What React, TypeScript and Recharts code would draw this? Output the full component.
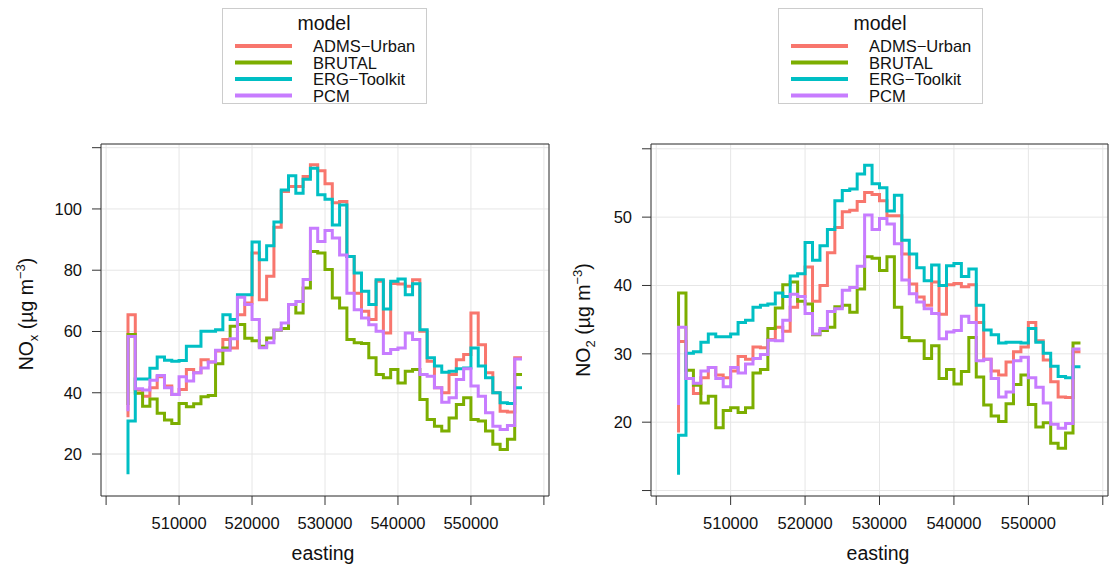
import { LineChart, Line, XAxis, YAxis, CartesianGrid } from 'recharts';

const FONT = '"Liberation Sans", Arial, Helvetica, sans-serif';

// easting of each step edge (1 km spacing along the transect)
const EASTING = [
  503000, 504000, 505000, 506000, 507000, 508000, 509000, 510000, 511000, 512000,
  513000, 514000, 515000, 516000, 517000, 518000, 519000, 520000, 521000, 522000,
  523000, 524000, 525000, 526000, 527000, 528000, 529000, 530000, 531000, 532000,
  533000, 534000, 535000, 536000, 537000, 538000, 539000, 540000, 541000, 542000,
  543000, 544000, 545000, 546000, 547000, 548000, 549000, 550000, 551000, 552000,
  553000, 554000, 555000, 556000, 557000,
];

const MODELS = ['ADMS\u2212Urban', 'BRUTAL', 'ERG\u2212Toolkit', 'PCM'];
const COLOURS = ['#F8766D', '#7CAE00', '#00BFC4', '#C77CFF'];

const X_TICKS = [500000, 510000, 520000, 530000, 540000, 550000, 560000];
const NOX_TICKS = [20, 40, 60, 80, 100, 120];
const NO2_TICKS = [10, 20, 30, 40, 50, 60];

// NOx panel
const NOX_ADMS = [32, 65.5, 40.9, 38.9, 41.6, 45.2, 42.2, 39.4, 41.1, 47.6, 46.5, 50.8, 50, 53.6, 57.4, 54.6, 65.5, 69.3, 85.6, 70.4, 78, 94, 105.7, 107.3, 107.3, 110.6, 114.4, 112.5, 108.2, 102, 102.4, 84.5, 72.5, 66.6, 63.9, 76.4, 59.5, 75.7, 75.5, 74.8, 76.9, 60.1, 50.3, 41.6, 40, 46, 50.8, 52.5, 66, 55.7, 46.5, 40, 34, 33.7, 51.4];
const NOX_BRUTAL = [36, 59, 39.8, 35.6, 38, 33.3, 31.1, 30, 36.5, 35.4, 36.4, 38.7, 39.1, 49.5, 54.6, 61.7, 62.3, 57.8, 57, 55.2, 57.9, 60.4, 61, 68.8, 66, 74.2, 86.1, 85.6, 80.2, 70.9, 67.7, 57.4, 56.3, 56.1, 51.4, 46, 44.9, 47.6, 43.2, 47, 47.6, 37.8, 31.3, 29.1, 27.5, 31.8, 36.2, 38.4, 31.3, 30.8, 27.5, 23.2, 21.5, 24.8, 46];
const NOX_ERG = [13.4, 30.8, 44.5, 44.5, 48, 51.7, 50.6, 50.3, 50.5, 55.2, 55.2, 60.1, 60.1, 60.6, 65.5, 63.9, 72, 72, 89.2, 83.4, 88, 95.7, 106.2, 110.8, 105.1, 109.7, 113.3, 104.6, 103.2, 94.8, 101.3, 84.5, 79.1, 73.1, 68.8, 76.9, 67.3, 76.4, 77.1, 72, 75.6, 60.6, 51.4, 48.7, 46.7, 47, 47.8, 48.1, 54.6, 48.7, 44.9, 40, 36.7, 36.5, 41.6];
const NOX_PCM = [34, 58.4, 41.3, 40.9, 44.1, 45.6, 41.6, 39.4, 45.2, 43.8, 46.5, 48.1, 50, 53.9, 53.9, 57.6, 71.2, 68.8, 63.9, 54.7, 56.3, 60.5, 62.8, 68.8, 69.8, 77, 93.7, 89.4, 93, 90.5, 85, 72.5, 67.1, 64.4, 62.2, 60.1, 52.8, 54.1, 54.6, 59.5, 57.4, 46, 45.4, 41.6, 36.9, 38.4, 44.3, 47.8, 42.2, 38.9, 33.5, 29.1, 28, 29.3, 51];

// NO2 panel
const NO2_ADMS = [18.5, 31.8, 26.4, 24.2, 26.5, 28, 26.9, 26.5, 27.5, 29.6, 29.2, 31, 30.9, 32.1, 33.9, 33.3, 36.8, 38.4, 42.7, 37.7, 40, 44.8, 48.5, 50.8, 51, 52.3, 53.6, 53.3, 52.4, 50.2, 50.2, 44.6, 40.2, 38.3, 37.1, 40.5, 35.8, 40.1, 40.3, 39.8, 40.1, 34.6, 29.2, 27.5, 26.9, 28.8, 30.3, 31, 34.6, 31.9, 29.1, 25.9, 23.7, 23.6, 30.3];
const NO2_BRUTAL = [27, 38.9, 27.6, 25.4, 22.8, 23.8, 19.2, 21.7, 22.1, 21.4, 22.1, 27.2, 27.7, 33.7, 36.7, 40.1, 40.5, 37.7, 37.3, 32.8, 33.4, 33.9, 36.9, 37.1, 36.1, 39.5, 44.2, 44, 42.2, 44.2, 36.8, 32.4, 31.9, 31.9, 29.3, 31.2, 26.4, 27.7, 25.6, 27.4, 32.4, 26.6, 22.5, 20.9, 20.1, 22.7, 25.5, 26.9, 22.6, 19.3, 19.9, 16.9, 16.2, 18.4, 31.6];
const NO2_ERG = [12.3, 18.1, 30.1, 30.3, 31.7, 32.9, 32.5, 32.5, 32.9, 34.6, 34.9, 36.8, 37.1, 37.3, 38.9, 38.4, 41.4, 41.7, 46.3, 43.7, 45.8, 48.2, 52.4, 53.9, 54.1, 56.3, 57.6, 54.9, 54.3, 50.9, 53.2, 46.6, 44.6, 42.6, 40.7, 43, 40, 42.9, 43.2, 41.3, 42.4, 37.1, 33.5, 32.8, 31.6, 31.7, 31.7, 31.6, 33.7, 31.7, 30.1, 28.2, 26.7, 26.5, 28.1];
const NO2_PCM = [22.5, 33.9, 26.4, 25.7, 27.5, 28, 26.4, 25.2, 28, 27.2, 28.5, 29.3, 29.9, 32, 31.9, 34.9, 38.7, 38.4, 35.9, 32.9, 33.7, 36.2, 36.6, 39.3, 39.7, 42.8, 50.3, 48.2, 49.8, 49, 46.1, 40.8, 38.8, 37.6, 36.6, 35.9, 32.2, 33.2, 33.4, 35.5, 34.6, 29, 29.2, 26.4, 23.7, 24.4, 29, 29.5, 26.5, 25.1, 22.8, 19.7, 19.1, 19.8, 30.7];

function buildRows(series: number[][]) {
  return EASTING.map((e, i) => ({
    e,
    s0: series[0][i],
    s1: series[1][i],
    s2: series[2][i],
    s3: series[3][i],
  }));
}

const noxRows = buildRows([NOX_ADMS, NOX_BRUTAL, NOX_ERG, NOX_PCM]);
const no2Rows = buildRows([NO2_ADMS, NO2_BRUTAL, NO2_ERG, NO2_PCM]);

const AXIS_COL = '#333';
const tickStyle = { fill: '#111', fontSize: 16.5, fontFamily: FONT };

interface PanelProps {
  rows: any[];
  left: number;
  width: number;
  margin: { top: number; right: number; bottom: number; left: number };
  rightAxisWidth: number;
  yDomain: [number, number];
  yTicks: number[];
  yHidden: number[];
}

function Panel({ rows, left, width, margin, rightAxisWidth, yDomain, yTicks, yHidden }: PanelProps) {
  return (
    <div style={{ position: 'absolute', left, top: 0 }}>
      <LineChart width={width} height={570} data={rows} margin={margin}>
        <CartesianGrid xAxisId="bottom" yAxisId="left" stroke="#e6e6e6" strokeWidth={1} />
        <XAxis
          xAxisId="bottom"
          dataKey="e"
          type="number"
          domain={[499300, 560700]}
          allowDataOverflow
          ticks={X_TICKS}
          interval={0}
          height={50}
          tickSize={9}
          tickMargin={12}
          tick={tickStyle}
          tickFormatter={(v: number) => (v === 500000 || v === 560000 ? '' : String(v))}
          axisLine={{ stroke: AXIS_COL }}
          tickLine={{ stroke: AXIS_COL }}
        />
        <XAxis
          xAxisId="top"
          orientation="top"
          dataKey="e"
          type="number"
          domain={[499300, 560700]}
          allowDataOverflow
          ticks={X_TICKS}
          interval={0}
          height={10}
          tickSize={9}
          tick={false}
          axisLine={{ stroke: AXIS_COL }}
          tickLine={{ stroke: AXIS_COL }}
        />
        <YAxis
          yAxisId="left"
          type="number"
          domain={yDomain}
          allowDataOverflow
          ticks={yTicks}
          interval={0}
          width={60}
          tickSize={9}
          tickMargin={10}
          tick={tickStyle}
          tickFormatter={(v: number) => (yHidden.includes(v) ? '' : String(v))}
          axisLine={{ stroke: AXIS_COL }}
          tickLine={{ stroke: AXIS_COL }}
        />
        <YAxis
          yAxisId="right"
          orientation="right"
          type="number"
          domain={yDomain}
          allowDataOverflow
          ticks={yTicks}
          interval={0}
          width={rightAxisWidth}
          tickSize={9}
          tick={false}
          axisLine={{ stroke: AXIS_COL }}
          tickLine={{ stroke: AXIS_COL }}
        />
        {['s0', 's1', 's2', 's3'].map((k, i) => (
          <Line
            key={k}
            xAxisId="bottom"
            yAxisId="left"
            type="stepBefore"
            dataKey={k}
            stroke={COLOURS[i]}
            strokeWidth={3}
            dot={false}
            activeDot={false}
            isAnimationActive={false}
          />
        ))}
      </LineChart>
    </div>
  );
}

function LegendBox({ x }: { x: number }) {
  const rows = [46, 62.5, 79, 95.5];
  return (
    <g>
      <rect x={x + 0.5} y={8.5} width={204} height={95} fill="#fff" stroke="#cccccc" />
      <text x={x + 102} y={30} textAnchor="middle" fontSize={19.5} fontFamily={FONT} fill="#111">
        model
      </text>
      {MODELS.map((m, i) => (
        <g key={m}>
          <line x1={x + 13} x2={x + 70} y1={rows[i]} y2={rows[i]} stroke={COLOURS[i]} strokeWidth={4} />
          <text x={x + 91} y={rows[i] + 6} fontSize={16.5} fontFamily={FONT} fill="#111">
            {m}
          </text>
        </g>
      ))}
    </g>
  );
}

function YTitle({ x, y, sub }: { x: number; y: number; sub: string }) {
  return (
    <text
      x={x}
      y={y}
      transform={`rotate(-90 ${x} ${y})`}
      textAnchor="middle"
      fontSize={19.5}
      fontFamily={FONT}
      fill="#111"
    >
      NO
      <tspan dy={5} fontSize={13}>{sub}</tspan>
      <tspan dy={-5}> (µg m</tspan>
      <tspan dy={-8} fontSize={13}>{'\u22123'}</tspan>
      <tspan dy={8}>)</tspan>
    </text>
  );
}

export default function App() {
  return (
    <div style={{ position: 'absolute', left: 0, top: 0, width: 1113, height: 570, background: '#fff', overflow: 'hidden' }}>
      <Panel
        rows={noxRows}
        left={0}
        width={560}
        margin={{ top: 134, right: 1, bottom: 24, left: 41 }}
        rightAxisWidth={10}
        yDomain={[6.3, 121.2]}
        yTicks={NOX_TICKS}
        yHidden={[120]}
      />
      <Panel
        rows={no2Rows}
        left={556}
        width={557}
        margin={{ top: 134, right: 0, bottom: 24, left: 35 }}
        rightAxisWidth={5}
        yDomain={[9.2, 60.7]}
        yTicks={NO2_TICKS}
        yHidden={[10, 60]}
      />
      <svg
        width={1113}
        height={570}
        style={{ position: 'absolute', left: 0, top: 0, pointerEvents: 'none' }}
      >
        <LegendBox x={222} />
        <LegendBox x={778} />
        <YTitle x={33} y={314} sub="x" />
        <YTitle x={590} y={320} sub="2" />
        <text x={323} y={560} textAnchor="middle" fontSize={19.5} fontFamily={FONT} fill="#111">
          easting
        </text>
        <text x={878} y={560} textAnchor="middle" fontSize={19.5} fontFamily={FONT} fill="#111">
          easting
        </text>
      </svg>
    </div>
  );
}
